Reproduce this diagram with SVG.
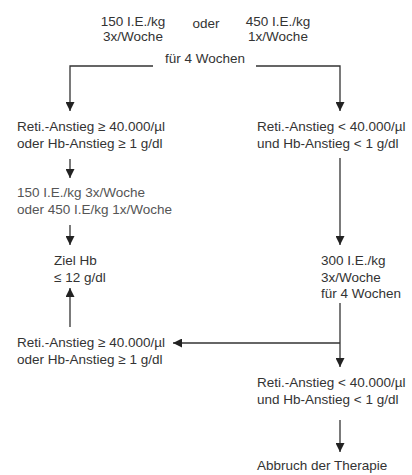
<svg xmlns="http://www.w3.org/2000/svg" width="412" height="475" viewBox="0 0 412 475">
<style>
text{font-family:"Liberation Sans",Arial,sans-serif;font-size:13.5px;fill:#333}
.c{text-anchor:middle}
.l{fill:#555}
.ln{fill:none;stroke:#333;stroke-width:1.3}
</style>
<defs>
<marker id="ah" viewBox="0 0 10 10" refX="10" refY="5" markerWidth="9" markerHeight="9" markerUnits="userSpaceOnUse" orient="auto"><path d="M0,0 L10,5 L0,10 z" fill="#222"/></marker>
</defs>
<rect width="412" height="475" fill="#fff"/>
<g id="start">
<text class="c" x="133" y="26">150 I.E./kg</text>
<text class="c" x="133" y="41">3x/Woche</text>
<text class="c" x="206" y="28">oder</text>
<text class="c" x="278" y="26">450 I.E./kg</text>
<text class="c" x="278" y="41">1x/Woche</text>
<text class="c" x="205" y="63">für 4 Wochen</text>
</g>
<g id="left1">
<text x="17" y="131">Reti.-Anstieg ≥ 40.000/µl</text>
<text x="17" y="148">oder Hb-Anstieg ≥ 1 g/dl</text>
</g>
<g id="right1">
<text x="257" y="131">Reti.-Anstieg &lt; 40.000/µl</text>
<text x="257" y="148">und Hb-Anstieg &lt; 1 g/dl</text>
</g>
<g id="dose1">
<text class="l" x="17" y="197">150 I.E./kg 3x/Woche</text>
<text class="l" x="17" y="214">oder 450 I.E/kg 1x/Woche</text>
</g>
<g id="ziel">
<text x="54" y="265">Ziel Hb</text>
<text x="54" y="282">≤ 12 g/dl</text>
</g>
<g id="dose2">
<text x="321" y="265">300 I.E./kg</text>
<text x="321" y="282">3x/Woche</text>
<text x="321" y="298">für 4 Wochen</text>
</g>
<g id="left2">
<text x="17" y="347">Reti.-Anstieg ≥ 40.000/µl</text>
<text x="17" y="364">oder Hb-Anstieg ≥ 1 g/dl</text>
</g>
<g id="right2">
<text x="257" y="387">Reti.-Anstieg &lt; 40.000/µl</text>
<text x="257" y="404">und Hb-Anstieg &lt; 1 g/dl</text>
</g>
<g id="end">
<text x="257" y="470">Abbruch der Therapie</text>
</g>
<g id="connectors" class="ln">
<path class="ln" d="M153,66 H70 V111" marker-end="url(#ah)"/>
<path class="ln" d="M256,66 H340 V111" marker-end="url(#ah)"/>
<path class="ln" d="M70,159 V178" marker-end="url(#ah)"/>
<path class="ln" d="M70,225 V245" marker-end="url(#ah)"/>
<path class="ln" d="M340,158 V245" marker-end="url(#ah)"/>
<path class="ln" d="M70,327 V288" marker-end="url(#ah)"/>
<path class="ln" d="M340,303 V367" marker-end="url(#ah)"/>
<path class="ln" d="M340,343 H173" marker-end="url(#ah)"/>
<path class="ln" d="M340,420 V452" marker-end="url(#ah)"/>
</g>
</svg>
